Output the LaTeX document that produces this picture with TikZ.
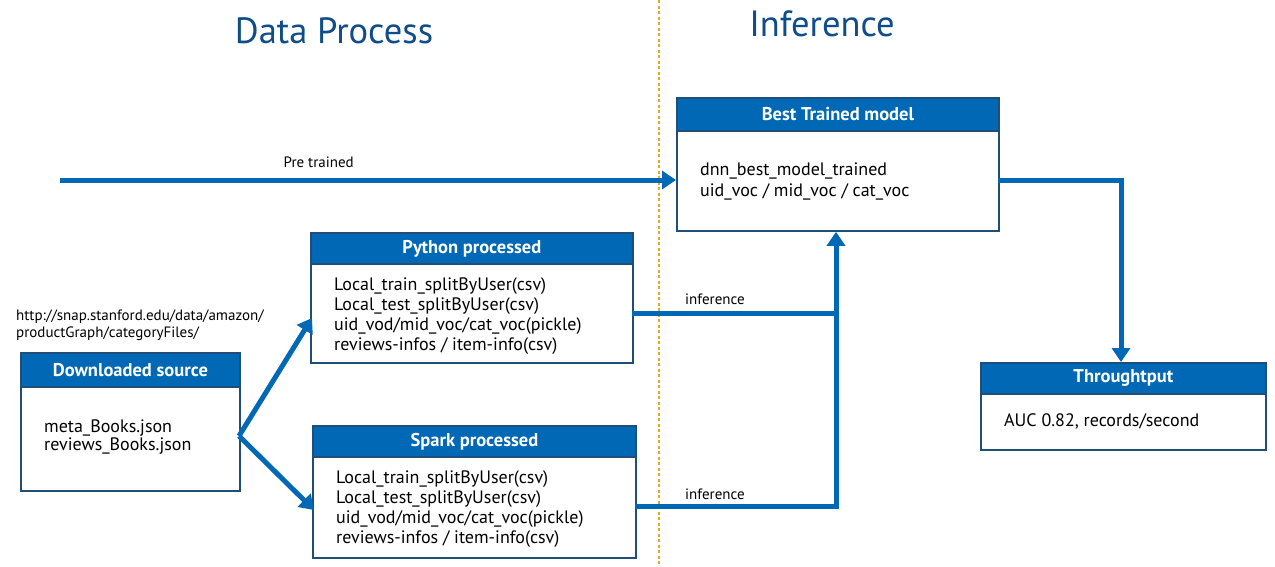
\documentclass[tikz,border=0pt]{standalone}
\usepackage{fontspec}
\setmainfont{PT Sans}
\usetikzlibrary{arrows.meta,positioning}
\definecolor{hdrblue}{HTML}{0068B5}
\definecolor{edgeblue}{HTML}{1F4E79}
\definecolor{arrblue}{HTML}{0068B5}
\definecolor{titleblue}{HTML}{0F4C8A}
\definecolor{divgold}{HTML}{E0AC22}
\tikzset{
  boxframe/.style={draw=edgeblue, line width=1.8pt, fill=white, anchor=north west, inner sep=0pt},
  hdr/.style={draw=edgeblue, line width=1.8pt, fill=hdrblue, anchor=north west, inner sep=0pt, text=white, font=\fontsize{18.5}{21}\selectfont\bfseries},
  body/.style={anchor=north west, inner sep=0pt, align=left, font=\fontsize{18}{20.3}\selectfont},
  small/.style={inner sep=0pt, font=\fontsize{15}{16.5}\selectfont},
  flow/.style={draw=arrblue, line width=5pt, -{Triangle[length=14pt,width=18pt]}},
  title/.style={text=titleblue, font=\fontsize{36.5}{40}\selectfont}
}
\begin{document}
\begin{tikzpicture}[x=1pt,y=-1pt]
\useasboundingbox (0,0) rectangle (1275,566);
\fill[white] (0,0) rectangle (1275,566);
% titles
\node[title] (t1) at (334,31) {Data Process};
\node[title] (t2) at (822,24) {Inference};
% divider
\coordinate (dtop) at (659,0);
\coordinate (dbot) at (659,566);
\draw[divgold, line width=2.5pt, dash pattern=on 3pt off 2.5pt] (dtop) -- (dbot);

% Downloaded source
\node[boxframe, minimum width=219pt, minimum height=138pt] (ds) at (20,352) {};
\node[hdr, minimum width=219pt, minimum height=34pt] (dsh) at (20,352) {Downloaded source};
\node[body, font=\fontsize{18}{18}\selectfont] (dst) at (44,420) {meta\_Books.json\\reviews\_Books.json};
\node[small, anchor=north west, align=left] (url) at (16,310) {http://snap.stanford.edu/data/amazon/\\productGraph/categoryFiles/};

% Python processed
\node[boxframe, minimum width=322pt, minimum height=130pt] (py) at (310,232) {};
\node[hdr, minimum width=322pt, minimum height=31pt] (pyh) at (310,232) {Python processed};
\node[body] (pyt) at (334,277) {Local\_train\_splitByUser(csv)\\Local\_test\_splitByUser(csv)\\uid\_vod/mid\_voc/cat\_voc(pickle)\\reviews-infos / item-info(csv)};

% Spark processed
\node[boxframe, minimum width=323pt, minimum height=132pt] (sp) at (312,425) {};
\node[hdr, minimum width=323pt, minimum height=31pt] (sph) at (312,425) {Spark processed};
\node[body] (spt) at (336,470) {Local\_train\_splitByUser(csv)\\Local\_test\_splitByUser(csv)\\uid\_vod/mid\_voc/cat\_voc(pickle)\\reviews-infos / item-info(csv)};

% Best trained model
\node[boxframe, minimum width=322pt, minimum height=133pt] (bm) at (676,97) {};
\node[hdr, minimum width=322pt, minimum height=33pt] (bmh) at (676,97) {Best Trained model};
\node[body] (bmt) at (700,163) {dnn\_best\_model\_trained\\uid\_voc / mid\_voc / cat\_voc};

% Throughput
\node[boxframe, minimum width=285pt, minimum height=87pt] (tp) at (980,362) {};
\node[hdr, minimum width=285pt, minimum height=31pt] (tph) at (980,362) {Throughtput};
\node[body] (tpt) at (1004,413) {AUC 0.82, records/second};

% connectors
\coordinate (pre) at (60,180);
\draw[flow] (pre) -- (bm.west |- pre) node[pos=0.42, above=10pt, small, text=black] (prel) {Pre trained};

\coordinate (fork) at (239,436);
\draw[flow] (fork) -- ([xshift=2pt]py.west |- 0,318);
\draw[flow] (fork) -- ([xshift=2pt]sp.west |- 0,510);

\coordinate (pyo) at (632,313);
\coordinate (spo) at (635,506);
\coordinate (jn) at (836,313);
\draw[draw=arrblue, line width=5pt] (pyo) -- (jn);
\draw[flow] (spo) -| (bm.south -| jn);
\node[small, anchor=west] (inf1) at (685,299) {inference};
\node[small, anchor=west] (inf2) at (685,494) {inference};

\coordinate (bmo) at (998,180);
\draw[flow] (bmo) -| (tp.north -| 1121,0);
\end{tikzpicture}
\end{document}
